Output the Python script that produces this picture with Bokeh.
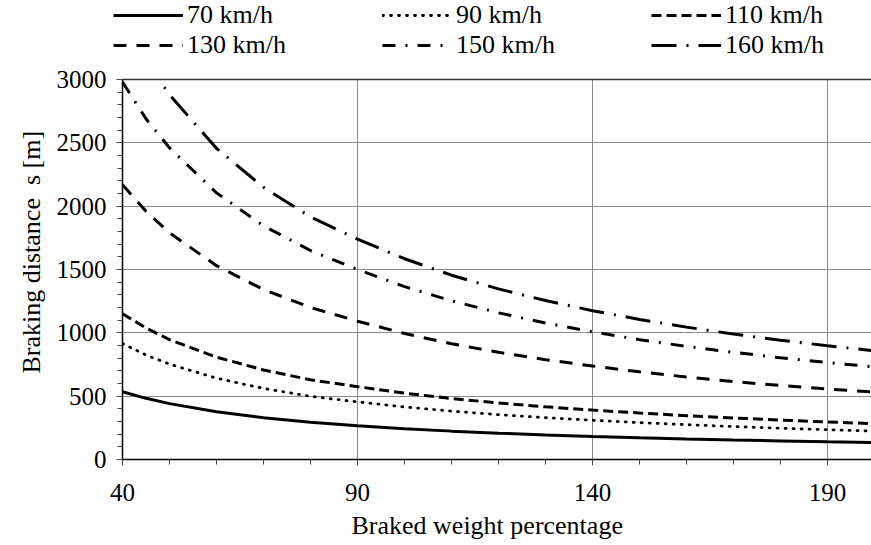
from bokeh.plotting import figure
from bokeh.models import (FixedTicker, LinearAxis, Legend, LegendItem, Range1d, Grid, Title)
from bokeh.layouts import column, row
from bokeh.embed import file_html
from bokeh.resources import INLINE

# ---------------- data ----------------
braked_weight = [40, 45, 50, 60, 70, 80, 90, 100, 110, 120, 130, 140, 150, 160, 170, 180, 190, 200]

s_70 = [535, 483, 441, 377, 330, 295, 266, 243, 224, 208, 194, 182, 171, 162, 154, 147, 140, 134]
s_90 = [915, 825, 753, 642, 561, 499, 455, 415, 382, 354, 330, 310, 291, 275, 260, 247, 235, 224]
s_110 = [1150, 1038, 947, 808, 707, 629, 575, 524, 481, 446, 416, 390, 367, 346, 328, 311, 296, 283]
s_130 = [2170, 1959, 1790, 1530, 1342, 1200, 1092, 995, 914, 846, 788, 738, 692, 651, 615, 584, 556, 532]
s_150 = [2980, 2690, 2460, 2105, 1845, 1650, 1500, 1365, 1253, 1158, 1078, 1008, 946, 893, 846, 803, 765, 731]
s_160 = [3496, 3155, 2879, 2457, 2149, 1915, 1740, 1585, 1455, 1347, 1255, 1175, 1106, 1045, 990, 942, 898, 858]

series_labels = ["70 km/h", "90 km/h", "110 km/h", "130 km/h", "150 km/h", "160 km/h"]

x_major = [40, 90, 140, 190]
x_minor = [50, 60, 70, 80, 100, 110, 120, 130, 150, 160, 170, 180, 200]
y_major = [0, 500, 1000, 1500, 2000, 2500, 3000]
y_minor = list(range(0, 3001, 100))

FONT = "Liberation Serif"
FS = "26px"
FS_TICK = "25px"

series = [s_70, s_90, s_110, s_130, s_150, s_160]
styles = [
    dict(line_dash="solid", line_width=3, line_cap="butt"),
    dict(line_dash="1 7", line_width=2.8, line_cap="round"),
    dict(line_dash="10 5", line_width=3, line_cap="butt"),
    dict(line_dash="13 10", line_width=3, line_cap="butt"),
    dict(line_dash="13 10 2 10", line_width=3, line_cap="butt"),
    dict(line_dash="25 10 2 10", line_width=3, line_cap="butt"),
]

# ---------------- main plot ----------------
p = figure(width=871, height=481, output_backend="svg", toolbar_location=None,
           x_range=Range1d(40, 199.36), y_range=Range1d(0, 3000),
           min_border_left=122, min_border_right=0, min_border_top=15,
           min_border_bottom=86, x_axis_type=None, y_axis_type=None)
p.outline_line_color = None
p.background_fill_color = "white"
p.border_fill_color = "white"

xaxis = LinearAxis(ticker=FixedTicker(ticks=x_major, minor_ticks=x_minor))
yaxis = LinearAxis(ticker=FixedTicker(ticks=y_major, minor_ticks=y_minor))
for ax in (xaxis, yaxis):
    ax.axis_line_color = "black"
    ax.axis_line_width = 1.5
    ax.major_tick_line_color = "#444444"
    ax.minor_tick_line_color = "#444444"
    ax.major_tick_in = 0
    ax.minor_tick_in = 0
    ax.major_tick_out = 6
    ax.minor_tick_out = 5
    ax.major_label_text_font = FONT
    ax.major_label_text_font_size = FS_TICK
    ax.major_label_text_color = "black"
xaxis.major_label_standoff = 18
yaxis.major_label_standoff = 10
p.add_layout(xaxis, "below")
p.add_layout(yaxis, "left")

xtitle = Title(text="Braked weight percentage", align="left", offset=229,
               text_font=FONT, text_font_size=FS, text_font_style="normal",
               text_color="black", standoff=10)
p.add_layout(xtitle, "below")
ytitle = Title(text="Braking distance\u00a0 s [m]", align="left", offset=86,
               text_font=FONT, text_font_size=FS, text_font_style="normal",
               text_color="black", standoff=16)
p.add_layout(ytitle, "left")

top = LinearAxis(ticker=FixedTicker(ticks=[]))
top.axis_line_color = "#333333"
top.axis_line_width = 1.5
top.major_tick_line_color = None
top.minor_tick_line_color = None
top.major_label_text_font_size = "0px"
p.add_layout(top, "above")

p.add_layout(Grid(dimension=0, ticker=FixedTicker(ticks=[90, 140, 190]),
                  grid_line_color="#8a8a8a", grid_line_width=1))
p.add_layout(Grid(dimension=1, ticker=FixedTicker(ticks=[500, 1000, 1500, 2000, 2500]),
                  grid_line_color="#8a8a8a", grid_line_width=1))

for ys, st in zip(series, styles):
    p.line(braked_weight, ys, line_color="black", **st)

# ---------------- legend strip ----------------
lg = figure(width=871, height=64, output_backend="svg", toolbar_location=None,
            x_range=Range1d(0, 1), y_range=Range1d(0, 1),
            min_border_left=0, min_border_right=0, min_border_top=0,
            min_border_bottom=0, x_axis_type=None, y_axis_type=None)
lg.outline_line_color = None
lg.xgrid.visible = False
lg.ygrid.visible = False

dummies = []
for st in styles:
    r = lg.line([-5, -4], [-5, -5], line_color="black", **st)
    dummies.append(r)

col_x = [113, 382, 651]
for c in range(3):
    items = [LegendItem(label=series_labels[c], renderers=[dummies[c]]),
             LegendItem(label=series_labels[c + 3], renderers=[dummies[c + 3]])]
    leg = Legend(items=items, location=(col_x[c], 4), orientation="vertical",
                 glyph_width=70, glyph_height=20, label_standoff=4, spacing=-2,
                 padding=0, margin=0, border_line_color=None,
                 background_fill_alpha=0, label_text_font=FONT,
                 label_text_font_size=FS, label_text_color="black",
                 label_height=20)
    lg.add_layout(leg, "center")

layout = column(row(lg), p, spacing=0)
open("out.html", "w").write(file_html(layout, INLINE))
